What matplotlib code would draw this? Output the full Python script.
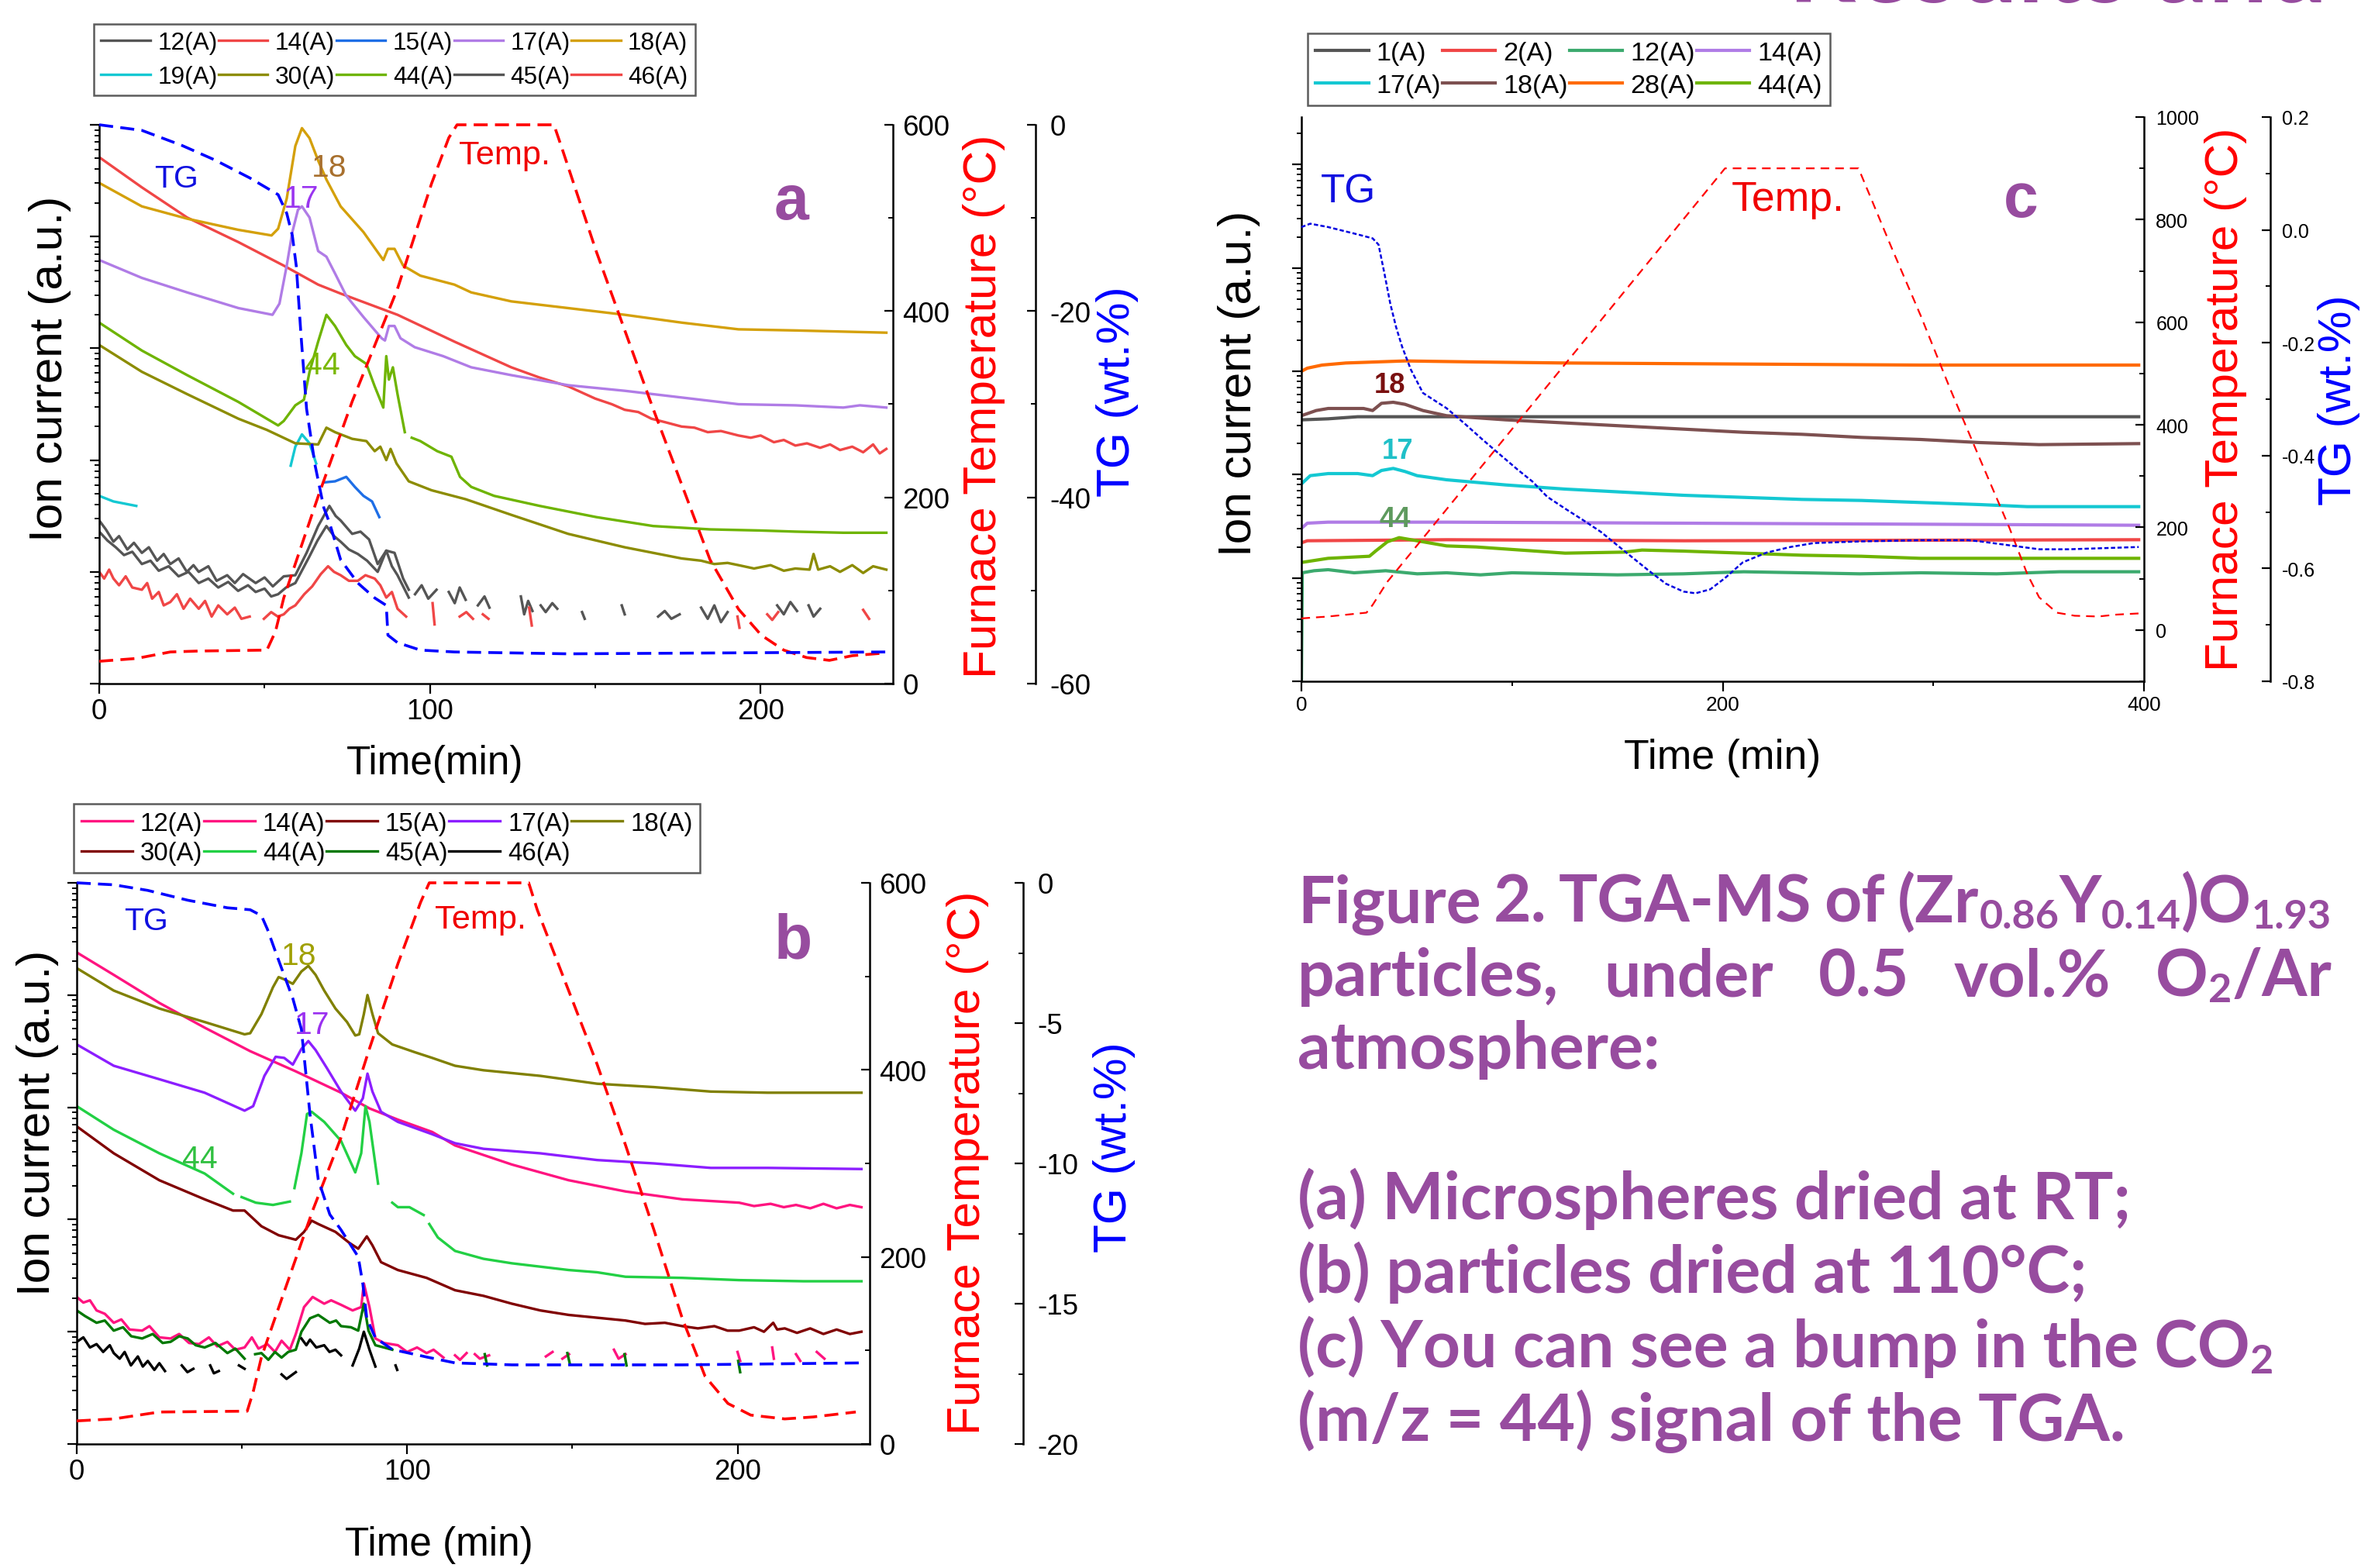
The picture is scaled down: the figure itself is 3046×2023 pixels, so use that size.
import numpy as np
import matplotlib.pyplot as plt
from matplotlib import font_manager
from matplotlib.font_manager import FontProperties
from matplotlib.ticker import MultipleLocator, LogLocator, NullFormatter

plt.rcParams['axes.unicode_minus'] = False

W, H = 3046, 2024
PURPLE = '#974C9F'
GAP = (np.nan, np.nan)

installed = {f.name for f in font_manager.fontManager.ttflist}
if 'Liberation Sans Narrow' in installed:
    NARROW, SQUEEZE = 'Liberation Sans Narrow', 1.0
else:
    NARROW, SQUEEZE = 'Liberation Sans', 0.82
REG = 'Liberation Sans'


def nar(size, weight='normal'):
    return FontProperties(family=NARROW, size=size * SQUEEZE, weight=weight)


# ---------------- panel a : (time min, log10 ion current) ----------------
a12 = [(0, -11.54), (2, -11.62), (4.3, -11.73), (6, -11.68), (8.5, -11.80), (10.5, -11.74), (12.9, -11.83),
       (15, -11.78), (17.5, -11.90), (19.5, -11.84), (21.5, -11.93), (24, -11.88), (26.5, -12.00), (28.5, -11.94),
       (30.1, -12.00), (33, -11.95), (35.5, -12.08), (38.7, -12.03), (41, -12.10), (43.5, -12.02), (47.3, -12.10),
       (50, -12.05), (52.5, -12.13), (55.8, -12.04), (59.3, -12.03), (62.7, -11.83), (66.2, -11.59), (69.6, -11.41),
       (71.5, -11.50), (73.0, -11.54), (76.5, -11.66), (79, -11.64), (81.6, -11.71), (84.2, -11.93), (86.8, -11.81),
       (89.3, -11.83), (91.9, -12.06), (93.6, -12.16), GAP,
       (95.5, -12.20), (97.5, -12.12), (99.5, -12.24), (102, -12.16), GAP,
       (105.7, -12.18), (107.5, -12.28), (109, -12.14), (110.8, -12.25), GAP,
       (114.5, -12.30), (116.5, -12.22), (118, -12.32), GAP,
       (127.5, -12.22), (128.5, -12.38), (129.7, -12.26), (131, -12.35), GAP,
       (133.5, -12.30), (135, -12.36), (137, -12.28), (138.5, -12.33), GAP,
       (146, -12.36), (146.8, -12.42), GAP, (158, -12.30), (158.9, -12.38), GAP,
       (169, -12.40), (171, -12.35), (173, -12.42), (175.5, -12.38), GAP,
       (182, -12.32), (184, -12.42), (186, -12.30), (188, -12.45), (190, -12.36), GAP,
       (205, -12.30), (207, -12.38), (209, -12.27), (211, -12.35), GAP,
       (214.5, -12.30), (216, -12.40), (218, -12.33)]
a14 = [(0, -8.29), (12.9, -8.56), (26.6, -8.83), (42.1, -9.05), (55.8, -9.26), (66.2, -9.43), (73.0, -9.51),
       (90.2, -9.70), (107.4, -9.94), (124.6, -10.17), (133, -10.26), (141.8, -10.34), (150, -10.45), (155, -10.50),
       (158.9, -10.55), (163, -10.57), (167, -10.63), (171, -10.66), (176.1, -10.70), (180, -10.71), (184, -10.75),
       (188, -10.74), (193.3, -10.78), (197, -10.80), (200, -10.78), (204, -10.84), (207, -10.82), (210.5, -10.87),
       (214, -10.85), (218, -10.89), (221, -10.86), (224, -10.91), (227.7, -10.88), (231, -10.93), (234, -10.86),
       (236, -10.94), (238, -10.90)]
a15 = [(67.9, -11.20), (71.3, -11.19), (74.7, -11.15), (77.3, -11.24), (79.9, -11.32), (82.5, -11.37), (84.7, -11.51)]
a17 = [(0, -9.21), (12.9, -9.37), (26.6, -9.50), (42.1, -9.64), (52.4, -9.70), (54.5, -9.60), (56.7, -9.26),
       (58.4, -8.96), (60.1, -8.76), (61.3, -8.73), (63.6, -8.83), (66.2, -9.13), (68.7, -9.18), (71.3, -9.33),
       (74.7, -9.53), (79.9, -9.72), (85.4, -9.91), (86.4, -9.93), (87.6, -9.80), (89.3, -9.80), (91.1, -9.91),
       (95.4, -9.99), (104.0, -10.07), (112.5, -10.17), (124.6, -10.24), (141.8, -10.33), (158.9, -10.38),
       (176.1, -10.44), (193.3, -10.50), (210.5, -10.51), (225, -10.53), (230, -10.51), (238, -10.53)]
a18 = [(0, -8.52), (12.9, -8.73), (26.6, -8.84), (42.1, -8.94), (52.1, -8.99), (54.1, -8.93), (56.7, -8.66),
       (59.3, -8.19), (61.3, -8.03), (63.6, -8.12), (66.2, -8.32), (68.7, -8.49), (73.0, -8.73), (79.9, -8.96),
       (85.9, -9.21), (87.3, -9.11), (89.3, -9.11), (91.9, -9.26), (97.1, -9.35), (107.4, -9.43), (112.5, -9.50),
       (124.6, -9.58), (141.8, -9.64), (158.9, -9.70), (176.1, -9.77), (193.3, -9.83), (210.5, -9.84), (238, -9.86)]
a19 = [(0, -11.32), (4.3, -11.37), (11.2, -11.41), GAP,
       (57.9, -11.05), (59.3, -10.88), (61.3, -10.77), (63.6, -10.85), (65.6, -11.03)]
a30 = [(0, -9.97), (12.9, -10.21), (26.6, -10.41), (42.1, -10.63), (50.7, -10.73), (59.3, -10.85), (66.2, -10.86),
       (68.7, -10.71), (71.3, -10.75), (76.5, -10.81), (80.8, -10.83), (83.3, -10.92), (85.0, -10.88), (86.8, -11.00),
       (88.1, -10.90), (89.9, -11.03), (93.6, -11.19), (100.5, -11.27), (110.8, -11.35), (124.6, -11.49),
       (141.8, -11.66), (158.9, -11.78), (176.1, -11.88), (182, -11.90), (186, -11.93), (190, -11.92),
       (193.3, -11.94), (198, -11.97), (203, -11.94), (207, -11.99), (210.5, -11.97), (214.8, -11.98),
       (216, -11.84), (217.4, -11.98), (221, -11.95), (224, -12.00), (227.7, -11.94), (231, -12.01),
       (234, -11.95), (238, -11.98)]
a44 = [(0, -9.77), (12.9, -10.02), (26.6, -10.24), (42.1, -10.48), (54.1, -10.69), (55.8, -10.65), (59.3, -10.51),
       (61.9, -10.46), (63.6, -10.21), (66.2, -9.94), (68.7, -9.70), (71.3, -9.80), (74.7, -9.97), (77.3, -10.07),
       (80.8, -10.14), (83.3, -10.34), (85.9, -10.53), (86.8, -10.07), (87.6, -10.28), (88.8, -10.17),
       (90.2, -10.41), (92.4, -10.75), GAP, (94.5, -10.80), (97.1, -10.83), (102.2, -10.92), (106.5, -10.97),
       (109.1, -11.15), (112.5, -11.24), (119.4, -11.32), (133.2, -11.41), (150.3, -11.51), (167.5, -11.59),
       (184.7, -11.62), (200, -11.63), (210.5, -11.64), (225, -11.65), (238, -11.65)]
a45 = [(0, -11.64), (2.5, -11.72), (5, -11.78), (7.5, -11.85), (10, -11.82), (12.9, -11.93), (15.5, -11.90),
       (18, -11.99), (21, -11.95), (24, -12.04), (27, -12.00), (30.1, -12.10), (33, -12.06), (36, -12.14),
       (39, -12.09), (42, -12.17), (45, -12.12), (47.3, -12.18), (50, -12.15), (52, -12.22), (54.1, -12.20),
       (56.5, -12.14), (59.3, -12.10), (63.6, -11.86), (66, -11.72), (68.7, -11.59), (71, -11.68), (73.0, -11.73),
       (75.5, -11.80), (78.2, -11.84), (81, -11.90), (84.2, -12.00), (86.8, -11.81), (88.5, -11.95),
       (90.2, -12.03), (93.6, -12.23)]
a46 = [(0, -12.00), (1.5, -12.06), (3, -11.98), (4.3, -12.06), (6, -12.12), (8, -12.04), (10, -12.14),
       (12.9, -12.16), (14.5, -12.10), (16, -12.24), (18, -12.18), (19.5, -12.30), (21.5, -12.27), (23.5, -12.20),
       (25.5, -12.33), (27.5, -12.24), (30.1, -12.33), (32, -12.26), (34, -12.40), (36, -12.30), (38.7, -12.38),
       (41, -12.32), (43, -12.42), (45.5, -12.40), GAP,
       (49.8, -12.42), (52, -12.36), (54, -12.40), (55.8, -12.38), (57.5, -12.33), (59.3, -12.30), (62, -12.20),
       (64.4, -12.13), (67, -12.02), (69.2, -11.95), (71, -12.00), (73.0, -12.03), (75.5, -12.08), (78.2, -12.08),
       (80.5, -12.03), (83.3, -12.06), (85, -12.12), (86.8, -12.23), (88.5, -12.18), (90.2, -12.33),
       (92.8, -12.40), GAP, (100.8, -12.28), (101.4, -12.47), GAP, (109, -12.40), (111, -12.36), (113, -12.42), GAP,
       (116, -12.38), (117.7, -12.42), GAP, (130, -12.32), (130.8, -12.48), GAP, (193, -12.40), (193.6, -12.50), GAP,
       (202, -12.38), (203.5, -12.43), (205.3, -12.36), GAP, (231, -12.34), (232.8, -12.42)]
tg_a = [(0, 0), (12.9, -0.6), (24.9, -2.2), (35.1, -3.8), (45.5, -5.7), (54.1, -7.5), (56.7, -9.5), (58.4, -11.9),
        (59.6, -15.2), (61.0, -22.5), (62.7, -30.5), (65.3, -36.6), (67.9, -41.1), (69.6, -42.7), (73.0, -46.7),
        (78.2, -49.2), (83.3, -50.8), (86.8, -51.6), (87.3, -54.8), (90.2, -55.6), (97.1, -56.4), (107.4, -56.6),
        (141.8, -56.8), (238, -56.6)]
temp_a = [(0, 24), (11.2, 27), (21.5, 34), (30.1, 35), (50.7, 36), (53.3, 56), (55.8, 92), (66.2, 201),
          (76.5, 303), (90.2, 424), (100.5, 537), (105.7, 586), (108.2, 600), (137.5, 600), (140, 574),
          (150.3, 464), (167.5, 295), (184.7, 133), (193.3, 80), (200.2, 52), (207, 36), (213.9, 28),
          (220.8, 25), (227.7, 30), (238, 33)]

# ---------------- panel b ----------------
b12 = [(0, -11.69), (2, -11.74), (4, -11.72), (6, -11.81), (8.5, -11.84), (11.2, -11.92), (13.5, -11.89),
       (16, -11.98), (19.8, -11.99), (22, -11.95), (25, -12.05), (28.4, -12.06), (31, -12.02), (34, -12.10),
       (37, -12.11), (40, -12.05), (42.5, -12.13), (45.6, -12.09), (48, -12.16), (50.8, -12.14), (53, -12.05),
       (55, -12.15), (57.7, -12.11), (60, -12.18), (62, -12.08), (64.5, -12.16), (66.3, -12.02), (68.8, -11.78),
       (71.4, -11.69), (74.9, -11.75), (77, -11.72), (80.0, -11.76), (83.5, -11.81), (86.1, -11.78),
       (86.9, -11.57), (88.6, -11.78), (90.4, -12.06), (93, -12.10), (97.2, -12.12), (100, -12.18),
       (103, -12.14), (105.9, -12.19), (108, -12.16), (111, -12.23), GAP,
       (114.5, -12.21), (116, -12.25), (118, -12.19), GAP, (120.5, -12.20), (122, -12.24), (124.8, -12.21), GAP,
       (142, -12.22), (144, -12.18), GAP, (147, -12.24), (149, -12.20), GAP,
       (162.6, -12.16), (164, -12.24), (166.1, -12.20), GAP, (200, -12.18), (200.8, -12.26), GAP,
       (210.5, -12.14), (211, -12.24), GAP, (217.7, -12.20), (219, -12.26), GAP, (224, -12.18), (226.3, -12.24)]
b14 = [(0, -8.62), (11.2, -8.82), (25.0, -9.07), (38.7, -9.29), (52.5, -9.50), (66.3, -9.68), (80.0, -9.87),
       (88.6, -10.01), (97.2, -10.11), (107.6, -10.22), (114.5, -10.34), (131.7, -10.51), (148.9, -10.65),
       (166.1, -10.75), (183.3, -10.82), (200.5, -10.85), (205, -10.88), (210, -10.86), (214, -10.89),
       (217.7, -10.87), (222, -10.90), (226, -10.86), (230, -10.90), (234, -10.87), (237.5, -10.89)]
b15 = []  # listed in the legend, trace not visible in the panel
b17 = [(0, -9.44), (11.2, -9.63), (25.0, -9.75), (38.7, -9.87), (50.8, -10.03), (53.4, -9.99), (56.8, -9.72),
       (60.2, -9.55), (62.8, -9.56), (65.4, -9.62), (68.0, -9.48), (70.1, -9.41), (72.3, -9.49), (75.7, -9.65),
       (80.0, -9.86), (84.3, -10.03), (86.6, -9.92), (88.0, -9.70), (89.5, -9.86), (92.1, -10.04), (97.2, -10.13),
       (107.6, -10.24), (114.5, -10.32), (123.1, -10.37), (140.3, -10.41), (157.5, -10.47), (174.7, -10.50),
       (191.9, -10.54), (209.1, -10.54), (237.5, -10.55)]
b18 = [(0, -8.76), (11.2, -8.96), (25.0, -9.12), (38.7, -9.24), (50.8, -9.35), (52.5, -9.34), (55.9, -9.17),
       (59.4, -8.93), (61.1, -8.84), (62.8, -8.86), (65.4, -8.90), (68.0, -8.79), (70.1, -8.74), (72.3, -8.82),
       (74.9, -8.96), (78.3, -9.12), (81.8, -9.24), (84.3, -9.36), (85.5, -9.35), (86.9, -9.17), (88.0, -9.00),
       (89.5, -9.17), (91.2, -9.34), (95.5, -9.44), (102.4, -9.51), (107.6, -9.56), (114.5, -9.63),
       (123.1, -9.67), (140.3, -9.72), (157.5, -9.79), (174.7, -9.82), (191.9, -9.86), (209.1, -9.87),
       (237.5, -9.87)]
b30 = [(0, -10.17), (11.2, -10.41), (25.0, -10.65), (38.7, -10.82), (47.3, -10.92), (50.8, -10.92),
       (55.9, -11.06), (61.1, -11.14), (66.3, -11.18), (68.8, -11.11), (71.1, -11.01), (73.1, -11.04),
       (78.3, -11.11), (82.6, -11.21), (85.2, -11.26), (87.8, -11.15), (89.5, -11.23), (92.1, -11.38),
       (97.2, -11.45), (105.9, -11.52), (114.5, -11.63), (123.1, -11.68), (131.7, -11.75), (140.3, -11.81),
       (148.9, -11.85), (166.1, -11.90), (172, -11.93), (178, -11.92), (183.3, -11.95), (188, -11.97),
       (193, -11.95), (197, -11.99), (200.5, -11.99), (205, -11.96), (208, -12.00), (210.8, -11.92),
       (212, -11.98), (214.3, -11.97), (218, -12.01), (222, -11.97), (226, -12.02), (230, -11.98),
       (234, -12.02), (237.5, -12.00)]
b44 = [(0, -9.99), (11.2, -10.20), (25.0, -10.41), (38.7, -10.59), (47.3, -10.77), GAP,
       (49.9, -10.80), (54.2, -10.85), (59.4, -10.87), (64.5, -10.84), GAP,
       (65.9, -10.72), (68.0, -10.41), (69.7, -10.06), (71.1, -10.04), (74.9, -10.13), (80.0, -10.30),
       (84.3, -10.58), (86.1, -10.41), (87.4, -9.99), (88.6, -10.13), (91.2, -10.68), GAP,
       (95.5, -10.85), (97.2, -10.89), (100.7, -10.89), (105.0, -10.96), GAP,
       (106.7, -11.04), (109.3, -11.16), (114.5, -11.28), (123.1, -11.35), (131.7, -11.39), (140.3, -11.42),
       (148.9, -11.45), (157.5, -11.47), (166.1, -11.51), (183.3, -11.52), (200.5, -11.54), (220, -11.55),
       (237.5, -11.55)]
b45 = [(0, -11.81), (2.5, -11.86), (6.0, -11.92), (8.5, -11.90), (11.2, -11.99), (14, -11.96), (16.5, -12.04),
       (19.8, -12.06), (23, -12.02), (26, -12.10), (28.4, -12.09), (31, -12.04), (33.6, -12.06), (36, -12.12),
       (38.7, -12.14), (42, -12.10), (45.6, -12.19), (48, -12.15), (50.8, -12.24), GAP,
       (54, -12.20), (55.9, -12.19), (58, -12.25), (60, -12.18), (62.0, -12.23), (64, -12.18), (66.3, -12.16),
       (68.0, -12.00), (70.6, -11.88), (73.1, -11.85), (76.6, -11.92), (78.5, -11.90), (80.0, -11.95),
       (83, -11.96), (85.2, -11.99), (86.9, -11.75), (88.3, -11.99), (90.4, -12.12), (93, -12.14),
       (95.5, -12.16), GAP, (123.5, -12.20), (124.2, -12.30), GAP, (148.5, -12.19), (149.2, -12.28), GAP,
       (165.8, -12.20), (166.4, -12.30), GAP, (200.2, -12.26), (200.8, -12.36)]
b46 = [(0, -12.09), (2, -12.05), (4, -12.14), (6.0, -12.11), (8, -12.18), (10, -12.12), (11.2, -12.19),
       (13, -12.24), (14.5, -12.18), (16.4, -12.30), (18.5, -12.22), (20, -12.31), (21.5, -12.26),
       (23.5, -12.34), (25, -12.28), (26.7, -12.35), GAP, (31.8, -12.30), (33.5, -12.36), (35.3, -12.33), GAP,
       (40.4, -12.30), (41.5, -12.37), (43.0, -12.35), GAP, (49.1, -12.30), (50.8, -12.33), GAP,
       (62.0, -12.38), (63.5, -12.42), (66.3, -12.36), GAP,
       (68.0, -12.06), (69.5, -12.12), (70.6, -12.07), (72.5, -12.14), (74.9, -12.12), (76.5, -12.18),
       (78.3, -12.16), (80.0, -12.21), GAP, (83.5, -12.30), (85.5, -12.15), (86.9, -12.00), (88.6, -12.16),
       (90.4, -12.31), GAP, (96.5, -12.30), (97, -12.34)]
tg_b = [(0, 0), (11.2, -0.07), (21.5, -0.27), (33.6, -0.62), (45.6, -0.89), (52.5, -0.96), (55.9, -1.17),
        (57.7, -1.65), (60.2, -2.47), (62.8, -3.30), (65.4, -4.12), (68.0, -5.22), (70.6, -8.25), (73.1, -10.58),
        (76.6, -11.82), (80.0, -12.37), (82.6, -12.85), (85.2, -13.33), (86.6, -14.30), (87.8, -15.53),
        (90.4, -16.22), (95.5, -16.63), (105.9, -16.90), (114.5, -17.11), (131.7, -17.18), (183.3, -17.18),
        (237.5, -17.11)]
temp_b = [(0, 24.7), (11.2, 26.8), (25, 34.2), (51.6, 35.1), (53.4, 55.7), (55.9, 92.8), (62.8, 162.9),
          (71.4, 249.5), (80, 327.8), (88.6, 422.7), (97.2, 513.4), (104.1, 579.4), (106.7, 600), (136.8, 600),
          (139.4, 571), (148.9, 484.6), (157.5, 406), (166.1, 319.6), (174.7, 228.9), (183.3, 134),
          (190.2, 72.2), (197.1, 43.3), (204, 30.9), (214.3, 26.8), (222.9, 28.9), (235.8, 34.2)]

# ---------------- panel c ----------------
c1 = [(0, -10.47), (12.7, -10.46), (26.7, -10.44), (68.9, -10.44), (397.5, -10.44)]
c2 = [(0, -11.66), (2.8, -11.64), (68.9, -11.63), (181.4, -11.64), (397.5, -11.63)]
c12 = [(0, -13.0), (0.4, -11.95), (6, -11.93), (12.7, -11.92), (25, -11.95), (40, -11.93), (55, -11.96),
       (68.9, -11.95), (85, -11.97), (100, -11.95), (125.2, -11.96), (150, -11.97), (181.4, -11.96),
       (210, -11.94), (237.7, -11.95), (265, -11.96), (294.0, -11.95), (330, -11.96), (360, -11.94),
       (397.5, -11.94)]
c14 = [(0, -11.52), (2.8, -11.47), (12.7, -11.46), (68.9, -11.46), (181.4, -11.47), (294.0, -11.48),
       (397.5, -11.49)]
c17 = [(0, -11.09), (4.2, -11.01), (12.7, -10.99), (26.7, -10.99), (33.8, -11.01), (38.0, -10.96),
       (43.6, -10.94), (49.2, -10.97), (54.9, -11.01), (68.9, -11.05), (97.0, -11.10), (125.2, -11.14),
       (153.3, -11.17), (181.4, -11.20), (209.6, -11.22), (237.7, -11.24), (265.8, -11.25), (294.0, -11.27),
       (322.1, -11.29), (344.6, -11.31), (397.5, -11.31)]
c18 = [(0, -10.43), (7.0, -10.38), (12.7, -10.36), (29.5, -10.36), (33.8, -10.38), (38.0, -10.31),
       (43.6, -10.30), (49.2, -10.32), (57.7, -10.38), (68.9, -10.43), (97.0, -10.47), (125.2, -10.50),
       (153.3, -10.53), (181.4, -10.56), (209.6, -10.59), (237.7, -10.61), (265.8, -10.64), (294.0, -10.66),
       (322.1, -10.69), (350.2, -10.71), (397.5, -10.70)]
c28 = [(0, -10.00), (2.8, -9.97), (9.8, -9.94), (21.1, -9.92), (49.2, -9.90), (83.0, -9.91), (125.2, -9.92),
       (209.6, -9.93), (294.0, -9.94), (364.3, -9.94), (397.5, -9.94)]
c44 = [(0, -11.85), (12.7, -11.81), (32.3, -11.79), (35.2, -11.74), (40.8, -11.65), (46.4, -11.61),
       (52.0, -11.63), (60.5, -11.66), (68.9, -11.69), (83.0, -11.70), (97.0, -11.72), (125.2, -11.76),
       (153.3, -11.75), (161.7, -11.73), (181.4, -11.74), (209.6, -11.76), (237.7, -11.78), (265.8, -11.79),
       (294.0, -11.81), (322.1, -11.81), (397.5, -11.81)]
tg_c = [(0, 0.005), (4.2, 0.011), (12.7, 0.005), (26.7, -0.008), (33.8, -0.015), (36.6, -0.026), (39.4, -0.077),
        (42.2, -0.131), (45.0, -0.173), (47.8, -0.207), (52.0, -0.248), (57.7, -0.289), (68.9, -0.316),
        (77.4, -0.343), (85.8, -0.371), (94.2, -0.398), (102.7, -0.425), (109.7, -0.446), (116.7, -0.473),
        (125.2, -0.494), (133.6, -0.514), (142.1, -0.535), (153.3, -0.569), (164.6, -0.603), (173.0, -0.627),
        (181.4, -0.641), (187.1, -0.644), (194.1, -0.637), (201.1, -0.617), (209.6, -0.589), (220.8, -0.572),
        (232.1, -0.562), (243.3, -0.555), (265.8, -0.552), (294.0, -0.550), (316.5, -0.550), (322.1, -0.552),
        (336.1, -0.559), (350.2, -0.566), (364.3, -0.566), (397.5, -0.562)]
temp_c = [(0, 22.6), (12.7, 26.3), (30.9, 33.8), (33.8, 48.9), (40.8, 94), (201.1, 900), (264.4, 900),
          (265.8, 887), (279.9, 748), (294, 612.8), (308, 470), (322, 334.6), (336.1, 199.3), (344.6, 109),
          (350.2, 63.9), (358.6, 33.8), (367.1, 27.8), (378.3, 26.3), (386.8, 30), (397.5, 32.3)]

fig = plt.figure(figsize=(W / 100, H / 100), dpi=100, facecolor='white')


def make_panel(box, xlim, ylim, tlim, glim, g_pos):
    l, t, r, b = box
    ax = fig.add_axes([l / W, 1 - b / H, (r - l) / W, (b - t) / H])
    ax.set_yscale('log')
    ax.set_xlim(xlim)
    ax.set_ylim(ylim)
    ax.yaxis.set_major_locator(LogLocator(10, numticks=50))
    ax.yaxis.set_minor_locator(LogLocator(10, subs=np.arange(2, 10), numticks=50))
    ax.yaxis.set_major_formatter(NullFormatter())
    ax.yaxis.set_minor_formatter(NullFormatter())
    ax.spines[['top', 'right']].set_visible(False)
    axT = ax.twinx()
    axG = ax.twinx()
    for a in (axT, axG):
        a.spines[['top', 'left', 'bottom']].set_visible(False)
    axG.spines['right'].set_position(('axes', g_pos))
    axT.set_ylim(tlim)
    axG.set_ylim(glim)
    for a in (ax, axT, axG):
        for s in a.spines.values():
            s.set_linewidth(1.8)
    ax.tick_params(which='major', direction='out', length=9, width=1.6)
    ax.tick_params(which='minor', direction='out', length=4.5, width=1.4)
    for a in (axT, axG):
        a.tick_params(which='major', direction='in', length=8, width=1.6)
        a.tick_params(which='minor', direction='in', length=4, width=1.4)
    return ax, axT, axG


def draw_ion(ax, curves, lw):
    handles = []
    for label, color, pts in curves:
        arr = np.array(pts, dtype=float).reshape(-1, 2)
        h, = ax.plot(arr[:, 0], 10 ** arr[:, 1], color=color, lw=lw, label=label)
        handles.append(h)
    return handles


def draw_line(ax, pts, color, lw, dashes):
    t, v = np.array(pts, dtype=float).T
    ax.plot(t, v, color=color, lw=lw, linestyle=(0, dashes), clip_on=False)


def add_legend(ax, handles, order, x0, y0, ncol, size, spacing):
    hs = [handles[i] for i in order]
    leg = ax.legend(hs, [h.get_label() for h in hs], ncol=ncol, loc='upper left',
                    bbox_to_anchor=(x0 / W, 1 - y0 / H), bbox_transform=fig.transFigure,
                    borderaxespad=0, prop=nar(size), handlelength=2.0, handletextpad=0.3,
                    columnspacing=0.05, labelspacing=spacing, borderpad=0.3,
                    frameon=True, fancybox=False)
    leg.get_frame().set_edgecolor('#333333')
    leg.get_frame().set_linewidth(1.8)


def tick_fonts(ax, axT, axG, xsize, ysize, tpad, gpad):
    ax.tick_params(axis='x', pad=4)
    axT.tick_params(axis='y', pad=tpad)
    axG.tick_params(axis='y', pad=gpad)
    plt.setp(ax.get_xticklabels(), fontproperties=nar(xsize))
    for a in (axT, axG):
        plt.setp(a.get_yticklabels(), family=REG, fontsize=ysize)


def axis_labels(ax, axT, axG, xlab, xpos, ion_pos, t_pos, g_pos, xsize):
    ax.set_xlabel(xlab, fontproperties=nar(xsize), va='baseline')
    ax.xaxis.set_label_coords(*xpos)
    ax.set_ylabel('Ion current (a.u.)', family=REG, fontsize=43.5, va='center')
    ax.yaxis.set_label_coords(*ion_pos)
    axT.set_ylabel('Furnace Temperature (°C)', family=REG, fontsize=43.5, color='#FF0000', va='center')
    axT.yaxis.set_label_coords(*t_pos)
    axG.set_ylabel('TG (wt.%)', family=REG, fontsize=43.5, color='#0000FF', va='center')
    axG.yaxis.set_label_coords(*g_pos)


def tag(ax, x, y, s, color, fp):
    ax.text(x, y, s, color=color, fontproperties=fp, ha='center', va='center', transform=ax.transAxes)


# ---------------- panel a ----------------
ax, axT, axG = make_panel((128, 162, 1152, 883), (0, 240), (1e-13, 1e-8), (0, 600), (-60, 0), 1.18)
hs = draw_ion(ax, [('12(A)', '#555555', a12), ('14(A)', '#F04646', a14), ('15(A)', '#1E6EE6', a15),
                   ('17(A)', '#B07CE6', a17), ('18(A)', '#D4A00A', a18), ('19(A)', '#14C8D2', a19),
                   ('30(A)', '#8C8C00', a30), ('44(A)', '#6EB400', a44), ('45(A)', '#555555', a45),
                   ('46(A)', '#F04646', a46)], 2.4)
draw_line(axT, temp_a, '#FF0000', 2.6, (5, 2.6))
draw_line(axG, tg_a, '#0000FF', 2.6, (5, 2.6))
ax.xaxis.set_major_locator(MultipleLocator(100))
ax.xaxis.set_minor_locator(MultipleLocator(50))
axT.yaxis.set_major_locator(MultipleLocator(200))
axT.yaxis.set_minor_locator(MultipleLocator(100))
axG.yaxis.set_major_locator(MultipleLocator(20))
axG.yaxis.set_minor_locator(MultipleLocator(10))
tick_fonts(ax, axT, axG, 32, 26.5, 9, 13)
axis_labels(ax, axT, axG, 'Time(min)', (0.423, -0.161), (-0.062, 0.564), (1.115, 0.498), (1.283, 0.524), 45)
add_legend(ax, hs, [0, 5, 1, 6, 2, 7, 3, 8, 4, 9], 121, 32, 5, 27.8, 0.42)
tag(ax, 0.097, 0.904, 'TG', '#1010E0', nar(36))
tag(ax, 0.290, 0.924, '18', '#A8702E', nar(36))
tag(ax, 0.255, 0.868, '17', '#9A35F0', nar(36))
tag(ax, 0.281, 0.570, '44', '#7AB800', nar(36))
tag(ax, 0.511, 0.946, 'Temp.', '#F00000', nar(38))
tag(ax, 0.872, 0.861, 'a', PURPLE, FontProperties(family=REG, weight='bold', size=58))

# ---------------- panel b ----------------
ax, axT, axG = make_panel((99, 1140, 1122, 1864), (0, 240), (1e-13, 1e-8), (0, 600), (-20, 0), 1.194)
hs = draw_ion(ax, [('12(A)', '#FF1480', b12), ('14(A)', '#FF1480', b14), ('15(A)', '#800000', b15),
                   ('17(A)', '#8C1EFF', b17), ('18(A)', '#808000', b18), ('30(A)', '#800000', b30),
                   ('44(A)', '#22D044', b44), ('45(A)', '#007800', b45), ('46(A)', '#000000', b46)], 2.4)
draw_line(axT, temp_b, '#FF0000', 2.6, (5, 2.6))
draw_line(axG, tg_b, '#0000FF', 2.6, (5, 2.6))
ax.xaxis.set_major_locator(MultipleLocator(100))
ax.xaxis.set_minor_locator(MultipleLocator(50))
axT.yaxis.set_major_locator(MultipleLocator(200))
axT.yaxis.set_minor_locator(MultipleLocator(100))
axG.yaxis.set_major_locator(MultipleLocator(5))
axG.yaxis.set_minor_locator(MultipleLocator(2.5))
tick_fonts(ax, axT, axG, 32, 26.5, 9, 13)
axis_labels(ax, axT, axG, 'Time (min)', (0.457, -0.198), (-0.049, 0.573), (1.124, 0.503), (1.308, 0.53), 45)
add_legend(ax, hs, [0, 5, 1, 6, 2, 7, 3, 8, 4], 95, 1038, 5, 29, 0.22)
tag(ax, 0.088, 0.932, 'TG', '#1010E0', nar(36))
tag(ax, 0.509, 0.935, 'Temp.', '#F00000', nar(38))
tag(ax, 0.280, 0.870, '18', '#A0A000', nar(36))
tag(ax, 0.297, 0.747, '17', '#9A30F0', nar(36))
tag(ax, 0.155, 0.508, '44', '#30C040', nar(36))
tag(ax, 0.903, 0.896, 'b', PURPLE, FontProperties(family=REG, weight='bold', size=58))

# ---------------- panel c ----------------
ax, axT, axG = make_panel((1679, 152, 2766, 880), (0, 400), (1e-13, 10 ** -7.54), (-100, 1000), (-0.8, 0.2), 1.150)
hs = draw_ion(ax, [('1(A)', '#555555', c1), ('2(A)', '#F04646', c2), ('12(A)', '#3CAA6E', c12),
                   ('14(A)', '#B07CE6', c14), ('17(A)', '#14C8D2', c17), ('18(A)', '#7D5050', c18),
                   ('28(A)', '#FF6A00', c28), ('44(A)', '#6EB400', c44)], 3.0)
draw_line(axT, temp_c, '#FF0000', 1.6, (5, 3.5))
draw_line(axG, tg_c, '#0000E0', 1.8, (2.2, 1.2))
ax.xaxis.set_major_locator(MultipleLocator(200))
ax.xaxis.set_minor_locator(MultipleLocator(100))
axT.yaxis.set_major_locator(MultipleLocator(200))
axT.yaxis.set_minor_locator(MultipleLocator(100))
axG.yaxis.set_major_locator(MultipleLocator(0.2))
axG.yaxis.set_minor_locator(MultipleLocator(0.1))
tick_fonts(ax, axT, axG, 23, 18, 11, 11)
axis_labels(ax, axT, axG, 'Time (min)', (0.5, -0.154), (-0.074, 0.529), (1.097, 0.501), (1.231, 0.50), 47)
add_legend(ax, hs, [0, 4, 1, 5, 2, 6, 3, 7], 1687, 44, 4, 30, 0.32)
tag(ax, 0.056, 0.868, 'TG', '#1010E0', nar(45))
tag(ax, 0.577, 0.855, 'Temp.', '#F00000', nar(47))
tag(ax, 0.105, 0.526, '18', '#7A1010', nar(32, 'bold'))
tag(ax, 0.114, 0.408, '17', '#20C0C8', nar(32, 'bold'))
tag(ax, 0.111, 0.288, '44', '#5E9A5E', nar(32, 'bold'))
tag(ax, 0.854, 0.853, 'c', PURPLE, FontProperties(family=REG, weight='bold', size=58))

# ---------------- caption ----------------
CAP = dict(color=PURPLE, family='Lato', weight='bold', va='baseline')
SUB = 0.62   # subscript size relative to the caption font


def fit_size(s, target, start=50):
    t = fig.text(0, 0, s, fontsize=start, **CAP)
    fig.canvas.draw()
    w = t.get_window_extent().width
    t.remove()
    return start * target / w


def caption_line(words, y, size, x0=1674, x1=None):
    # words: list of words, each a list of (text, is_subscript) pieces
    rows = []
    for word in words:
        row = []
        for s, sub in word:
            fs = size * (SUB if sub else 1.0)
            yy = y + (0.09 * size * 100 / 72 if sub else 0)
            row.append(fig.text(0, 1 - yy / H, s, fontsize=fs, **CAP))
        rows.append(row)
    fig.canvas.draw()
    widths = [[t.get_window_extent().width for t in row] for row in rows]
    gap = 0
    if x1 is not None and len(words) > 1:
        gap = (x1 - x0 - sum(sum(w) for w in widths)) / (len(words) - 1)
    x = x0
    for row, ws in zip(rows, widths):
        for t, w in zip(row, ws):
            t.set_x(x / W)
            x += w
        x += gap


cap_size = fit_size('(a) Microspheres dried at RT;', 1078)
caption_line([[('Figure', 0)], [('2.', 0)], [('TGA-MS', 0)], [('of', 0)],
              [('(Zr', 0), ('0.86', 1), ('Y', 0), ('0.14', 1), (')O', 0), ('1.93', 1)]], 1190, cap_size, x1=3008)
caption_line([[('particles,', 0)], [('under', 0)], [('0.5', 0)], [('vol.%', 0)],
              [('O', 0), ('2', 1), ('/Ar', 0)]], 1285, cap_size, x1=3008)
caption_line([[('atmosphere:', 0)]], 1379, cap_size)
caption_line([[('(a) Microspheres dried at RT;', 0)]], 1573, cap_size)
caption_line([[('(b) particles dried at 110°C;', 0)]], 1668, cap_size)
caption_line([[('(c) You can see a bump in the CO', 0), ('2', 1)]], 1764, cap_size)
caption_line([[('(m/z = 44) signal of the TGA.', 0)]], 1859, cap_size)

head_size = fit_size('Results and', 697)
fig.text(2307 / W, 1 - 3 / H, 'Results and', fontsize=head_size, **CAP)

fig.savefig('out.png', dpi=100, facecolor='white')
